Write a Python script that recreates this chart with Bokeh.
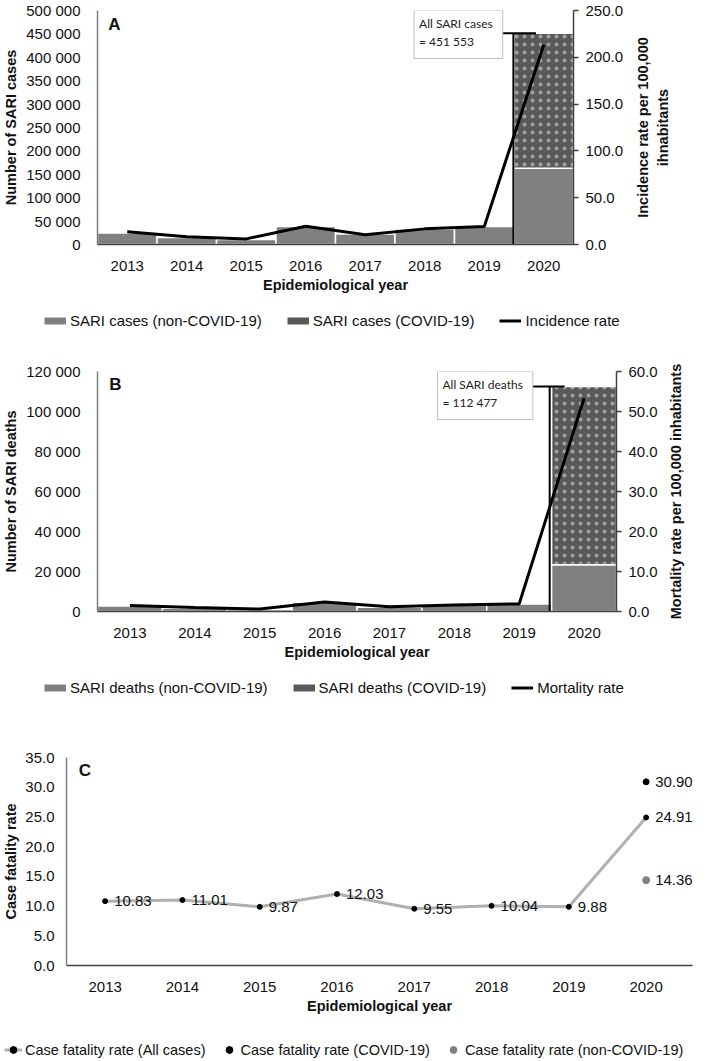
from bokeh.plotting import figure
from bokeh.models import (Range1d, LinearAxis, FixedTicker, NumeralTickFormatter,
                          CustomJSTickFormatter, Legend, LegendItem, Label, LabelSet,
                          ColumnDataSource)
from bokeh.core.properties import value
from bokeh.layouts import row
from bokeh.embed import file_html
from bokeh.resources import INLINE

# ---------------- data ----------------
years = [2013, 2014, 2015, 2016, 2017, 2018, 2019, 2020]
cases_non_covid = [24800, 14900, 10600, 38300, 22700, 33300, 38300, 163000]
cases_covid = [0, 0, 0, 0, 0, 0, 0, 288553]
incidence_rate = [13.5, 8.2, 6.0, 19.5, 10.3, 16.7, 19.1, 213.5]
deaths_non_covid = [2690, 1640, 1050, 4610, 2170, 3340, 3780, 23400]
deaths_covid = [0, 0, 0, 0, 0, 0, 0, 89077]
mortality_rate = [1.5, 1.0, 0.6, 2.4, 1.2, 1.6, 1.9, 53.3]
cfr_all = [10.83, 11.01, 9.87, 12.03, 9.55, 10.04, 9.88, 24.91]
cfr_covid_year = [2020]
cfr_covid = [30.90]
cfr_non_covid_year = [2020]
cfr_non_covid = [14.36]

FONT = "Liberation Sans"
BOX_FONT = "Lato"
GREY = "#808080"
DARK = "#595959"
TXT = "#111111"
NAN = float("nan")

space_fmt = CustomJSTickFormatter(
    code="return Math.round(tick).toString().replace(/\\B(?=(\\d{3})+(?!\\d))/g, ' ');")


def style_axis(ax, size="15px"):
    ax.major_tick_line_color = None
    ax.minor_tick_line_color = None
    ax.major_label_text_font = FONT
    ax.major_label_text_font_size = size
    ax.major_label_text_color = TXT
    ax.axis_label_text_font = FONT
    ax.axis_label_text_font_style = "bold"
    ax.axis_label_text_font_size = "14.5px"
    ax.axis_label_text_color = TXT


def style_common(p):
    p.xgrid.visible = False
    p.ygrid.visible = False
    p.outline_line_color = None
    p.xaxis.ticker = FixedTicker(ticks=years)
    p.xaxis.formatter = CustomJSTickFormatter(code="return tick.toFixed(0);")
    for ax in p.xaxis + p.yaxis:
        style_axis(ax)
    p.xaxis.axis_line_color = "#404040"
    p.xaxis.axis_line_width = 1.5
    p.xaxis.major_label_standoff = 10
    p.xaxis.axis_label_standoff = 3
    p.xaxis.axis_label = "Epidemiological year"
    p.yaxis.axis_line_color = "#7f7f7f"
    p.yaxis.axis_line_width = 1.5


def legend_strip(height, items_spec, x, y, glyph_width, standoff, spacing, font_size):
    s = figure(width=693, height=height, x_range=Range1d(0, 1), y_range=Range1d(0, 1),
               x_axis_type=None, y_axis_type=None, output_backend="svg",
               toolbar_location=None, min_border=0)
    s.outline_line_color = None
    s.xgrid.visible = False
    s.ygrid.visible = False
    items = []
    for label, kinds in items_spec:
        rs = []
        for kind, color, size in kinds:
            if kind == "line":
                rs.append(s.line(x=[NAN], y=[NAN], line_color=color, line_width=size))
            else:
                rs.append(s.scatter(x=[NAN], y=[NAN], size=size, fill_color=color,
                                    line_color=color))
        items.append(LegendItem(label=label, renderers=rs))
    leg = Legend(items=items, location=(x, y), orientation="horizontal",
                 glyph_width=glyph_width, glyph_height=17, label_standoff=standoff,
                 spacing=spacing, padding=0, margin=0, border_line_color=None,
                 background_fill_alpha=0, label_text_font=FONT,
                 label_text_font_size=font_size, label_text_color=TXT)
    s.add_layout(leg)
    return s


def title_strip(width, height, top_b, bot_b, left_b, text):
    """Narrow figure whose (left) axis label carries the right-hand title,
    so that it reads bottom-to-top like the reference."""
    t = figure(width=width, height=height, x_range=Range1d(0, 1), y_range=Range1d(0, 1),
               x_axis_type=None, output_backend="svg", toolbar_location=None,
               min_border_top=top_b, min_border_bottom=bot_b,
               min_border_left=left_b, min_border_right=0)
    t.outline_line_color = None
    t.xgrid.visible = False
    t.ygrid.visible = False
    ax = t.yaxis[0]
    ax.ticker = FixedTicker(ticks=[])
    ax.axis_line_color = None
    ax.major_tick_line_color = None
    ax.minor_tick_line_color = None
    ax.major_label_standoff = 0
    ax.axis_label_standoff = 0
    ax.axis_label = text
    ax.axis_label_text_font = FONT
    ax.axis_label_text_font_style = "bold"
    ax.axis_label_text_font_size = "14.5px"
    ax.axis_label_text_color = TXT
    return t


def bar_panel(width, height, top_b, bot_b, left_b, right_b, ymax, ystep, rmax, rstep,
              non, cov, rate, ylabel, letter, letter_y, box_x, hline_x1, vline_x,
              box_word):
    p = figure(width=width, height=height, x_range=Range1d(2012.5, 2020.5),
               y_range=Range1d(0, ymax), output_backend="svg", toolbar_location=None,
               min_border_top=top_b, min_border_bottom=bot_b,
               min_border_left=left_b, min_border_right=right_b)
    p.extra_y_ranges = {"rate": Range1d(0, rmax)}
    style_common(p)
    p.yaxis.ticker = FixedTicker(ticks=list(range(0, ymax + 1, ystep)))
    p.yaxis.formatter = space_fmt
    p.yaxis.axis_label = ylabel
    p.yaxis.major_label_standoff = 11
    p.yaxis.axis_label_standoff = 4

    rax = LinearAxis(y_range_name="rate",
                     ticker=FixedTicker(ticks=[i * rstep for i in range(int(rmax / rstep) + 1)]),
                     formatter=NumeralTickFormatter(format="0.0"))
    style_axis(rax)
    rax.axis_line_color = "#404040"
    rax.axis_line_width = 1.5
    rax.major_tick_line_color = "#404040"
    rax.major_tick_line_width = 1.5
    rax.major_tick_out = 5
    rax.major_tick_in = 0
    rax.major_label_standoff = 7
    p.add_layout(rax, "right")

    p.vbar(x=years, width=1, bottom=0, top=non, fill_color=GREY,
           line_color="white", line_width=1.5)
    cy = [y for y, c in zip(years, cov) if c > 0]
    cb = [n for n, c in zip(non, cov) if c > 0]
    ct = [n + c for n, c in zip(non, cov) if c > 0]
    p.vbar(x=cy, width=1, bottom=cb, top=ct, fill_color=DARK,
           hatch_pattern="dot", hatch_color="#dddddd", hatch_alpha=0.55,
           hatch_scale=8, hatch_weight=0.9, line_color="white", line_width=1.5)
    p.line(years, rate, y_range_name="rate", line_color="black", line_width=3)

    total = non[-1] + cov[-1]
    p.segment(x0=[box_x + 1.43], y0=[total], x1=[hline_x1], y1=[total],
              line_color="black", line_width=2)
    p.segment(x0=[vline_x], y0=[total], x1=[vline_x], y1=[0],
              line_color="black", line_width=2)
    total_txt = f"{total:,}".replace(",", " ")
    p.add_layout(Label(x=box_x, y=ymax, text=f"All SARI {box_word}\n= {total_txt}",
                       anchor="top_left", text_font=BOX_FONT, text_font_size="12px",
                       text_color="#222222", padding=(5, 10, 5, 10),
                       border_line_color="#bfbfbf", border_line_width=1,
                       background_fill_color="white"))
    p.add_layout(Label(x=2012.68, y=letter_y, text=letter, text_font=FONT,
                       text_font_style="bold", text_font_size="17px",
                       text_baseline="middle", text_color=TXT))
    return p


# ---------------- panel A ----------------
pA = bar_panel(632, 295, 10, 50, 87, 59, 500000, 50000, 250.0, 50.0,
               cases_non_covid, cases_covid, incidence_rate,
               "Number of SARI cases", "A", 470000, 2017.82, 2019.87, 2019.49, "cases")
tA = title_strip(61, 295, 10, 50, 32, "Incidence rate per 100,000\nihnabitants")
legA = legend_strip(40, [("SARI cases (non-COVID-19)", [("line", GREY, 7)]),
                         ("SARI cases (COVID-19)", [("line", DARK, 7)]),
                         ("Incidence rate", [("line", "black", 3)])],
                    44, 6, 22, 4, 25, "15px")

# ---------------- panel B ----------------
pB = bar_panel(660, 327, 36, 50, 89, 44, 120000, 20000, 60.0, 10.0,
               deaths_non_covid, deaths_covid, mortality_rate,
               "Number of SARI deaths", "B", 113500, 2017.74, 2019.70, 2019.47, "deaths")
tB = title_strip(33, 327, 36, 50, 23, "Mortality rate per 100,000 inhabitants")
legB = legend_strip(40, [("SARI deaths (non-COVID-19)", [("line", GREY, 7)]),
                         ("SARI deaths (COVID-19)", [("line", DARK, 7)]),
                         ("Mortality rate", [("line", "black", 3)])],
                    44, 6, 22, 4, 25, "15px")

# ---------------- panel C ----------------
pC = figure(width=693, height=314, x_range=Range1d(2012.5, 2020.6), y_range=Range1d(0, 35),
            output_backend="svg", toolbar_location=None,
            min_border_top=55, min_border_bottom=50, min_border_left=54, min_border_right=1)
style_common(pC)
pC.yaxis.ticker = FixedTicker(ticks=[0, 5, 10, 15, 20, 25, 30, 35])
pC.yaxis.formatter = NumeralTickFormatter(format="0.0")
pC.yaxis.axis_label = "Case fatality rate"
pC.yaxis.major_label_standoff = 6
pC.yaxis.axis_label_standoff = 3

pC.line(years, cfr_all, line_color="#b0b0b0", line_width=3)
pC.scatter(years, cfr_all, size=5, fill_color="black", line_color="black")
pC.scatter(cfr_covid_year, cfr_covid, size=6, fill_color="black", line_color="black")
pC.scatter(cfr_non_covid_year, cfr_non_covid, size=7, fill_color=GREY, line_color=GREY)

lab_src = ColumnDataSource(dict(
    x=years + cfr_covid_year + cfr_non_covid_year,
    y=cfr_all + cfr_covid + cfr_non_covid,
    t=[f"{v:.2f}" for v in cfr_all + cfr_covid + cfr_non_covid]))
pC.add_layout(LabelSet(x="x", y="y", text="t", source=lab_src, x_offset=9,
                       text_baseline="middle", text_font=value(FONT), text_font_size="15px",
                       text_color=TXT))
pC.add_layout(Label(x=2012.66, y=32.8, text="C", text_font=FONT, text_font_style="bold",
                    text_font_size="17px", text_baseline="middle", text_color=TXT))

legC = legend_strip(44, [("Case fatality rate (All cases)", [("line", "#b0b0b0", 3), ("dot", "black", 5)]),
                         ("Case fatality rate (COVID-19)", [("dot", "black", 5)]),
                         ("Case fatality rate (non-COVID-19)", [("dot", GREY, 6)])],
                    4, 2, 18, 3, 14, "14.5px")

p = [row(pA, tA, spacing=0), legA, row(pB, tB, spacing=0), legB, pC, legC]
open("out.html", "w").write(file_html(p, INLINE))
